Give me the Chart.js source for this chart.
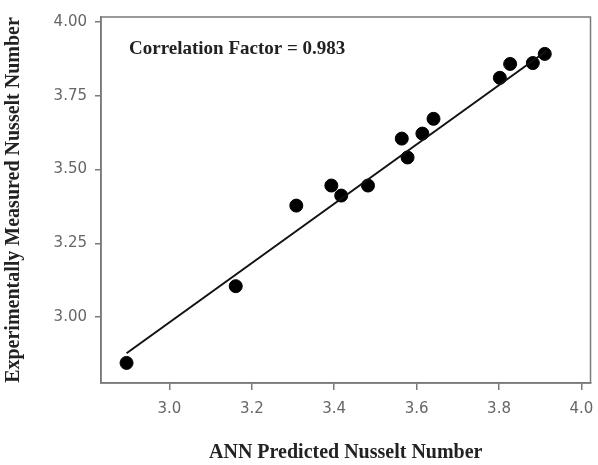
<!DOCTYPE html>
<html>
<head>
<meta charset="utf-8">
<script src="https://cdn.jsdelivr.net/npm/chart.js@4"></script>
<style>
  html, body { margin: 0; padding: 0; background: #fff; }
  #wrap { width: 598px; height: 465px; }
</style>
</head>
<body>
<div id="wrap"><canvas id="chart"></canvas></div>
<script>
const predicted = [2.896, 3.161, 3.308, 3.393, 3.417, 3.482, 3.564, 3.578, 3.614, 3.641, 3.802, 3.827, 3.882, 3.911];
const measured  = [2.845, 3.105, 3.378, 3.446, 3.412, 3.446, 3.605, 3.541, 3.622, 3.672, 3.811, 3.858, 3.861, 3.892];

// fitted line end points
const fitX = [2.896, 3.915];
const fitY = [2.878, 3.902];

const xTicks = [3.0, 3.2, 3.4, 3.6, 3.8, 4.0];
const yTicks = [3.00, 3.25, 3.50, 3.75, 4.00];

const annotation = "Correlation Factor = 0.983";

const frameColor = '#7a7a7a';
const tickFont = { family: 'DejaVu Sans', size: 15 };
const titleFont = { family: 'Liberation Serif', size: 20, weight: 'bold' };

// draws the box around the plot and the correlation text
const framePlugin = {
    id: 'frame',
    afterDraw(chart) {
        const { ctx, chartArea: a } = chart;
        ctx.save();
        ctx.strokeStyle = frameColor;
        ctx.lineWidth = 1.5;
        ctx.strokeRect(a.left, a.top, a.right - a.left, a.bottom - a.top);
        ctx.fillStyle = '#222';
        ctx.font = 'bold 19px "Liberation Serif"';
        ctx.textBaseline = 'middle';
        ctx.fillText(annotation, a.left + 28, a.top + 32);
        ctx.restore();
    }
};

const ctx = document.getElementById('chart').getContext('2d');
new Chart(ctx, {
    type: 'scatter',
    data: {
        datasets: [
            {
                label: 'fit',
                type: 'line',
                data: fitX.map((x, i) => ({ x: x, y: fitY[i] })),
                borderColor: '#111',
                borderWidth: 2,
                pointRadius: 0,
                fill: false
            },
            {
                label: 'data',
                data: predicted.map((x, i) => ({ x: x, y: measured[i] })),
                backgroundColor: '#000',
                borderColor: '#000',
                pointRadius: 6.5,
                pointHoverRadius: 6.5
            }
        ]
    },
    options: {
        responsive: true,
        maintainAspectRatio: false,
        animation: false,
        layout: { padding: { top: 15, right: 6, left: 0, bottom: 0 } },
        plugins: {
            legend: { display: false },
            tooltip: { enabled: false }
        },
        scales: {
            x: {
                type: 'linear',
                min: 2.834,
                max: 4.022,
                afterBuildTicks: s => { s.ticks = xTicks.map(v => ({ value: v })); },
                afterFit: s => { s.height = 82; s.paddingLeft = 0; s.paddingRight = 0; },
                border: { display: true, color: frameColor, width: 1.5 },
                grid: { drawOnChartArea: false, drawTicks: true, tickLength: 7, color: frameColor, lineWidth: 1.5 },
                ticks: {
                    padding: 10,
                    color: '#666',
                    font: tickFont,
                    callback: v => v.toFixed(1)
                },
                title: {
                    display: true,
                    text: 'ANN Predicted Nusselt Number',
                    color: '#222',
                    font: titleFont,
                    padding: { top: 0, bottom: 0 }
                }
            },
            y: {
                type: 'linear',
                min: 2.777,
                max: 4.017,
                afterBuildTicks: s => { s.ticks = yTicks.map(v => ({ value: v })); },
                afterFit: s => { s.width = 101; },
                border: { display: true, color: frameColor, width: 1.5 },
                grid: { drawOnChartArea: false, drawTicks: true, tickLength: 6, color: frameColor, lineWidth: 1.5 },
                ticks: {
                    padding: 8,
                    color: '#666',
                    font: tickFont,
                    callback: v => v.toFixed(2)
                },
                title: {
                    display: true,
                    text: 'Experimentally Measured Nusselt Number',
                    color: '#222',
                    font: titleFont,
                    padding: { top: 2, bottom: 0 }
                }
            }
        }
    },
    plugins: [framePlugin]
});
</script>
</body>
</html>
